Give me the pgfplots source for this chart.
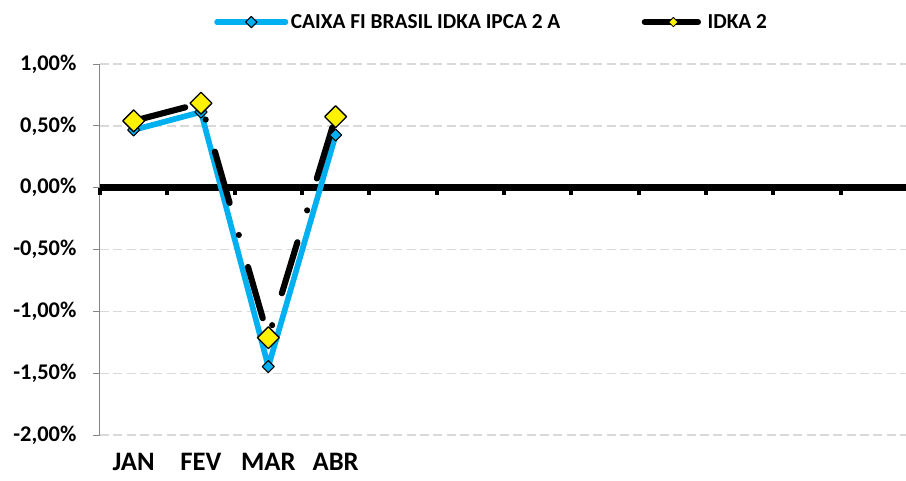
\documentclass[border=0pt]{standalone}
\usepackage{pgfplots}
\pgfplotsset{compat=1.18}
\usepackage{fontspec}
\setmainfont{Carlito}
\definecolor{cblue}{HTML}{00B0F0}
\definecolor{gridgray}{HTML}{D9D9D9}
\definecolor{axgray}{HTML}{868686}
\begin{document}
\begin{tikzpicture}
\useasboundingbox (-75pt,-33.75pt) rectangle (604.5pt,326.25pt);
\begin{axis}[
  at={(0pt,0pt)}, anchor=south west,
  scale only axis, width=606pt, height=278.25pt,
  xmin=-0.5, xmax=11.5, ymin=-2, ymax=1,
  axis y line*=left, axis x line*=bottom,
  x axis line style={draw=none},
  y axis line style={draw=axgray, line width=0.75pt, -},
  ytick={-2,-1.5,-1,-0.5,0,0.5,1},
  yticklabels={{-2,00\%},{-1,50\%},{-1,00\%},{-0,50\%},{0,00\%},{0,50\%},{1,00\%}},
  ymajorgrids,
  grid style={gridgray, line width=1pt, dash pattern=on 6.75pt off 3.25pt},
  major y tick style={axgray, line width=0.75pt},
  tick align=outside, major tick length=5.25pt,
  xtick={0,1,2,3}, xticklabels={JAN,FEV,MAR,ABR},
  major x tick style={draw=none},
  yticklabel style={font=\bfseries\fontsize{16.8}{19}\selectfont, anchor=east, inner xsep=0pt, xshift=-12.25pt},
  xticklabel style={font=\bfseries\fontsize{20}{22}\selectfont, anchor=base, yshift=-21pt},
  clip=false,
  legend columns=2,
  legend style={at={(axis description cs:0.1411,1.113)}, anchor=west, draw=none, fill=none, inner sep=0pt,
    font=\bfseries\fontsize{16}{19}\selectfont,
    /tikz/every even column/.append style={column sep=59pt}},
]
\draw[black, line width=5pt] (axis cs:-0.5,0) -- (axis cs:11.5,0);
\pgfplotsinvokeforeach{-0.5,0.5,...,11.5}{\draw[black, line width=3pt] (axis cs:#1,0) -- ++(0pt,-5.8pt);}
\addplot[cblue, line width=4.25pt, line join=round, line cap=round,
  mark=square*, mark size=3.2pt,
  mark options={rotate=45, fill=cblue, draw=black, line width=0.8pt, solid},
  legend image code/.code={
    \draw[cblue, line width=4pt, line cap=round] (2pt,0pt) -- (53.5pt,0pt);
    \draw[fill=cblue, draw=black, line width=0.8pt] (23.5pt,0pt) -- (27.75pt,4.25pt) -- (32pt,0pt) -- (27.75pt,-4.25pt) -- cycle;
  }]
  coordinates {(0,0.467) (1,0.612) (2,-1.447) (3,0.426)};
\addlegendentry{CAIXA FI BRASIL IDKA IPCA 2 A}
\addplot[black, line width=4.6pt, line join=round, line cap=round,
  dash pattern=on 40pt off 25pt on 0pt off 25pt,
  mark=square*, mark size=5.8pt,
  mark options={rotate=45, fill=yellow, draw=black, line width=1pt, solid},
  legend image code/.code={
    \draw[black, line width=4.5pt, line cap=round] (2pt,0pt) -- (45pt,0pt);
    \draw[fill=yellow, draw=black, line width=0.6pt] (20pt,0pt) -- (23.5pt,3.5pt) -- (27pt,0pt) -- (23.5pt,-3.5pt) -- cycle;
  }]
  coordinates {(0,0.540) (1,0.683) (2,-1.213) (3,0.574)};
\addlegendentry{IDKA 2}
\end{axis}
\end{tikzpicture}
\end{document}
